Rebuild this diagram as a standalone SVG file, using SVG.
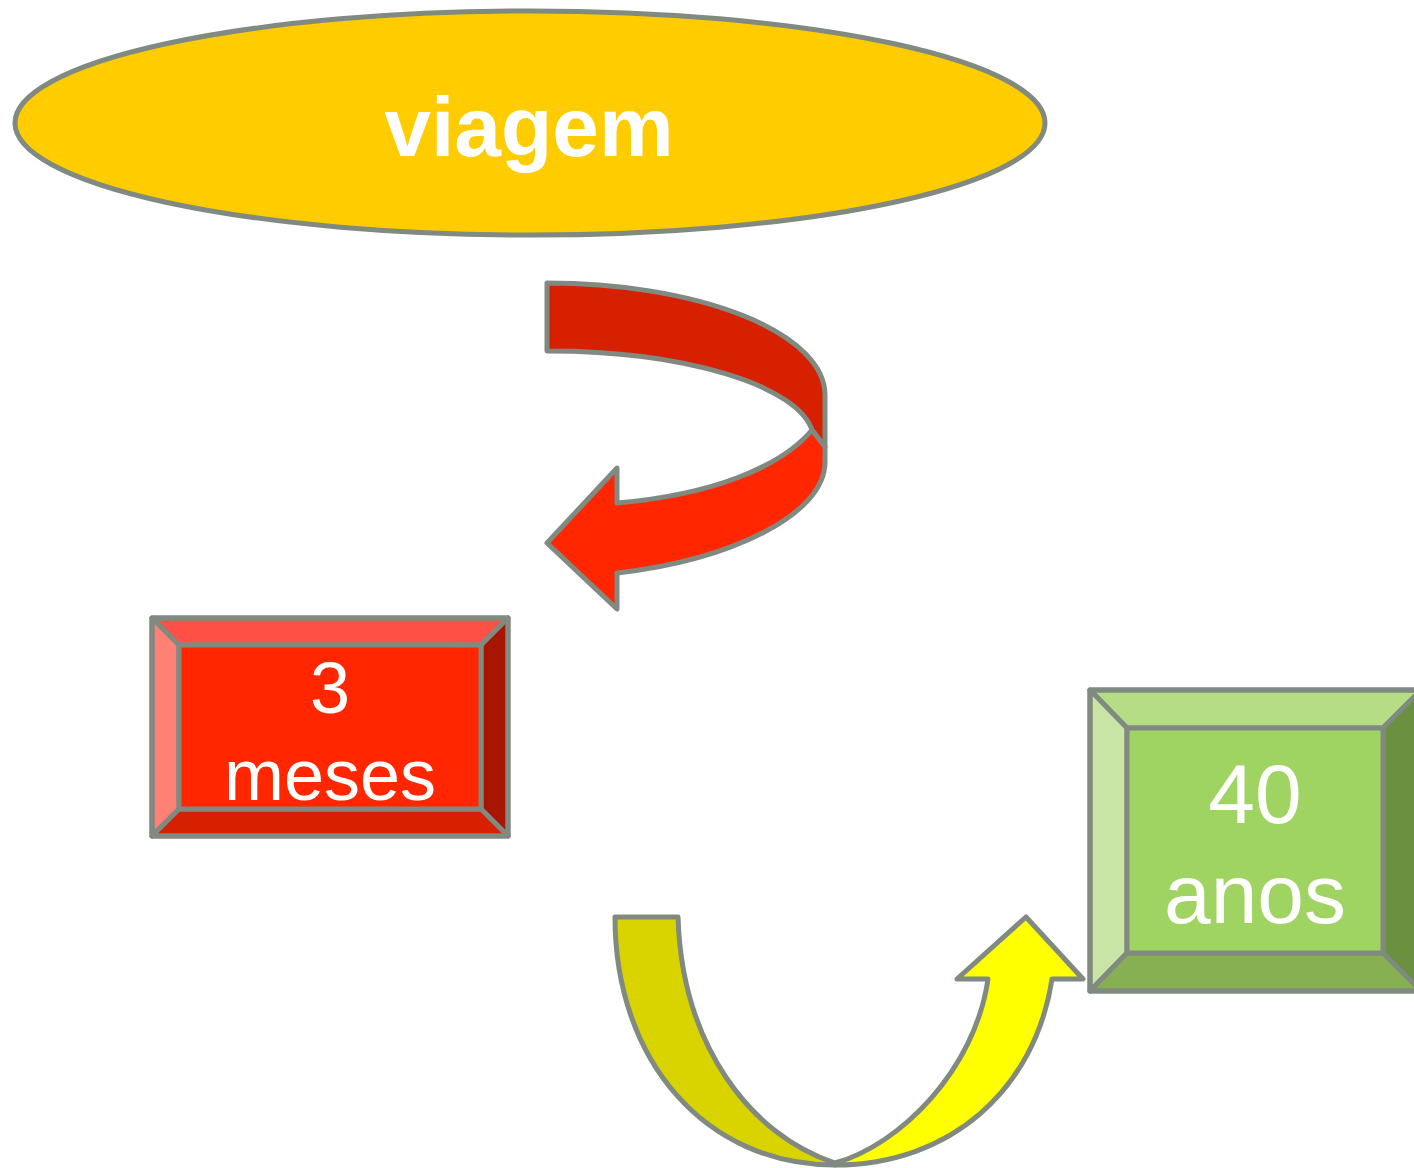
<svg xmlns="http://www.w3.org/2000/svg" width="1414" height="1168" viewBox="0 0 1414 1168">
<style>
.o{stroke:#808A80;stroke-width:5;stroke-linejoin:round}
.t{font-family:"Liberation Sans",Arial,sans-serif;fill:#FFFFFF;text-anchor:middle}
</style>
<rect width="1414" height="1168" fill="#FFFFFF"/>
<g id="viagem">
<ellipse class="o" cx="530" cy="123" rx="515" ry="112" fill="#FFCC00"/>
<text class="t" x="529" y="156" font-size="84" font-weight="bold">viagem</text>
</g>
<g id="connectors">
<g id="arrow-red">
<path class="o" fill="#D62000" d="M547,283 A278,112 0 0 1 825,395 L825,447 L812,430 A265,89 0 0 0 547,351 Z"/>
<path class="o" fill="#FF2600" d="M812,430 C780,468 710,495 617,503 L617,468 L547,543 L617,609 L617,573 C730,560 825,515 825,462 L825,447 Z"/>
</g>
<g id="arrow-yellow">
<path class="o" fill="#D9D400" d="M615,917 L678,917 C682,1045 750,1135 835,1163 L835,1165 C705,1165 615,1060 615,917 Z"/>
<path class="o" fill="#FFFF00" d="M835,1163 C900,1145 975,1070 988,979 L957,979 L1026,917 L1083,979 L1052,979 C1035,1090 950,1165 835,1165 Z"/>
</g>
</g>
<g id="meses">
<rect x="152" y="618" width="356" height="218" fill="#FF2600"/>
<polygon class="o" fill="#FF5045" points="152,618 508,618 481,645 179,645"/>
<polygon class="o" fill="#FF8075" points="152,618 179,645 179,809 152,836"/>
<polygon class="o" fill="#A81500" points="508,618 508,836 481,809 481,645"/>
<polygon class="o" fill="#D62000" points="152,836 179,809 481,809 508,836"/>
<rect class="o" x="179" y="645" width="302" height="164" fill="#FF2600"/>
<rect class="o" x="152" y="618" width="356" height="218" fill="none"/>
<text class="t" font-size="72"><tspan x="330" y="713">3</tspan><tspan x="330" y="800">meses</tspan></text>
</g>
<g id="anos">
<polygon class="o" fill="#B5DD85" points="1090,690 1421,690 1383,728 1127,728"/>
<polygon class="o" fill="#C9E5A5" points="1090,690 1127,728 1127,953 1090,991"/>
<polygon class="o" fill="#6A9040" points="1421,690 1421,991 1383,953 1383,728"/>
<polygon class="o" fill="#86B052" points="1090,991 1127,953 1383,953 1421,991"/>
<rect class="o" x="1127" y="728" width="256" height="225" fill="#A0D462"/>
<rect class="o" x="1090" y="690" width="331" height="301" fill="none"/>
<text class="t" font-size="84"><tspan x="1255" y="823">40</tspan><tspan x="1255" y="923">anos</tspan></text>
</g>
</svg>
